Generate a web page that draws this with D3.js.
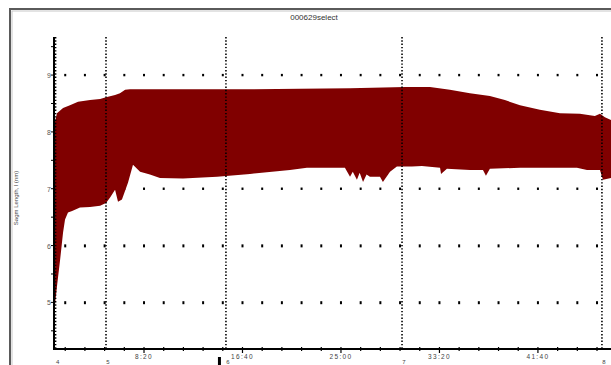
<!DOCTYPE html>
<html>
<head>
<meta charset="utf-8">
<script src="https://cdn.jsdelivr.net/npm/d3@7"></script>
<style>
  body { margin: 0; background: #fff; }
  text { font-family: "Liberation Sans", Arial, sans-serif; }
</style>
</head>
<body>
<div class="container"></div>
<script>
// Envelope of the oscillating trace (time in s, length in um)
const upperT = [48, 58, 89, 124, 165, 226, 277, 307, 353, 378, 404, 429, 700, 1038, 1292, 1546, 1825, 1952, 2053, 2155, 2256, 2332, 2409, 2510, 2612, 2713, 2789, 2815, 2840, 2871];
const upperV = [8.18, 8.33, 8.42, 8.47, 8.53, 8.56, 8.58, 8.61, 8.65, 8.68, 8.74, 8.75, 8.75, 8.75, 8.76, 8.77, 8.79, 8.79, 8.74, 8.68, 8.63, 8.56, 8.47, 8.39, 8.33, 8.32, 8.28, 8.32, 8.26, 8.21];
const lowerT = [48, 58, 74, 89, 99, 114, 135, 175, 226, 277, 307, 327, 353, 368, 388, 419, 444, 480, 530, 581, 698, 871, 1038, 1241, 1327, 1520, 1546, 1560, 1581, 1595, 1612, 1630, 1647, 1698, 1713, 1749, 1784, 1860, 1911, 2003, 2008, 2038, 2155, 2221, 2236, 2256, 2409, 2698, 2749, 2815, 2830, 2871];
const lowerV = [4.96, 5.28, 5.75, 6.23, 6.46, 6.58, 6.61, 6.67, 6.68, 6.70, 6.75, 6.84, 6.98, 6.77, 6.81, 7.11, 7.42, 7.30, 7.25, 7.19, 7.18, 7.21, 7.26, 7.33, 7.37, 7.37, 7.21, 7.30, 7.16, 7.28, 7.12, 7.25, 7.21, 7.21, 7.12, 7.30, 7.39, 7.39, 7.40, 7.37, 7.26, 7.35, 7.33, 7.33, 7.23, 7.35, 7.37, 7.37, 7.33, 7.33, 7.16, 7.19];

// Event markers
const markerT = [51, 307, 916, 1810, 2825];
const markerLabels = ['4', '5', '6', '7', '8'];
const cursorT = 883;

const xTicks = [500, 1000, 1500, 2000, 2500];
const xTickLabels = ['8:20', '16:40', '25:00', '33:20', '41:40'];
const yTicks = [5, 6, 7, 8, 9];
const gridRows = [5, 6, 7, 8, 9];

const width = 611, height = 365;
const plot = {left: 54, right: 611, top: 37, bottom: 349};

const svg = d3.select('.container').append('svg')
    .attr('width', width).attr('height', height);

const x = d3.scaleLinear().domain([43, 2871]).range([plot.left, plot.right]);
const y = d3.scaleLinear().domain([4.18, 9.67]).range([plot.bottom, plot.top]);

// Frame
svg.append('rect').attr('x', 10).attr('y', 9).attr('width', 700).attr('height', 400)
    .attr('fill', 'none').attr('stroke', '#5a5a5a').attr('stroke-width', 2);
svg.append('rect').attr('x', 12).attr('y', 11).attr('width', 700).attr('height', 400)
    .attr('fill', 'none').attr('stroke', '#c8c8c8').attr('stroke-width', 1);

// Title
svg.append('text').attr('x', 314).attr('y', 20).attr('text-anchor', 'middle')
    .style('font-size', '8px').attr('fill', '#333').text('000629select');

// Grid dots (under the data)
const minorT = d3.range(100, 2900, 100);
const grid = svg.append('g');
gridRows.forEach(v => {
    grid.selectAll(null).data(minorT).enter().append('rect')
        .attr('x', d => x(d) - 1).attr('y', y(v) - 1.2)
        .attr('width', 2).attr('height', v <= 6 ? 3 : 2.4).attr('fill', '#000');
});

// Trace band
const pts = upperT.map((t, i) => [x(t), y(upperV[i])])
    .concat(lowerT.map((t, i) => [x(t), y(lowerV[i])]).reverse());
svg.append('path').attr('d', d3.line()(pts) + 'Z').attr('fill', '#800000');

// Marker lines
svg.append('g').selectAll('line').data(markerT).enter().append('line')
    .attr('x1', d => x(d)).attr('x2', d => x(d))
    .attr('y1', plot.top).attr('y2', plot.bottom)
    .attr('stroke', '#000').attr('stroke-width', 1.6).attr('stroke-dasharray', '1.4,1.9');
svg.append('g').selectAll('text').data(markerT).enter().append('text')
    .attr('x', d => x(d) + 2).attr('y', 364).attr('text-anchor', 'middle')
    .style('font-size', '6px').attr('fill', '#444')
    .text((d, i) => markerLabels[i]);
svg.append('rect').attr('x', x(cursorT) - 1.5).attr('y', 357).attr('width', 3).attr('height', 9).attr('fill', '#000');

// Axes
svg.append('line').attr('x1', plot.left).attr('x2', plot.left).attr('y1', plot.top).attr('y2', plot.bottom + 1)
    .attr('stroke', '#000').attr('stroke-width', 2);
svg.append('line').attr('x1', plot.left - 1).attr('x2', width).attr('y1', plot.bottom).attr('y2', plot.bottom)
    .attr('stroke', '#000').attr('stroke-width', 2);

// y ticks
const yMinor = d3.range(4.5, 9.6, 0.5);
svg.append('g').selectAll('line').data(yMinor).enter().append('line')
    .attr('x1', plot.left - 3).attr('x2', plot.left).attr('y1', d => y(d)).attr('y2', d => y(d))
    .attr('stroke', '#000').attr('stroke-width', 1);
svg.append('g').selectAll('text').data(yTicks).enter().append('text')
    .attr('x', plot.left - 3).attr('y', d => y(d) + 3).attr('text-anchor', 'end')
    .style('font-size', '7px').attr('fill', '#555').text(d => d);

// x ticks
svg.append('g').selectAll('line').data(minorT).enter().append('line')
    .attr('x1', d => x(d)).attr('x2', d => x(d)).attr('y1', plot.bottom - 2)
    .attr('y2', d => xTicks.includes(d) ? plot.bottom + 4 : plot.bottom + 2)
    .attr('stroke', '#000').attr('stroke-width', 1.2);
svg.append('g').selectAll('text').data(xTicks).enter().append('text')
    .attr('x', d => x(d)).attr('y', 359).attr('text-anchor', 'middle')
    .style('font-size', '6.5px').style('letter-spacing', '1.3px').attr('fill', '#444')
    .text((d, i) => xTickLabels[i]);

// y label
svg.append('text').attr('transform', 'translate(18,198) rotate(-90)')
    .attr('text-anchor', 'middle').style('font-size', '6px').attr('fill', '#444')
    .text('Sagm Length, l (nm)');
</script>
</body>
</html>
